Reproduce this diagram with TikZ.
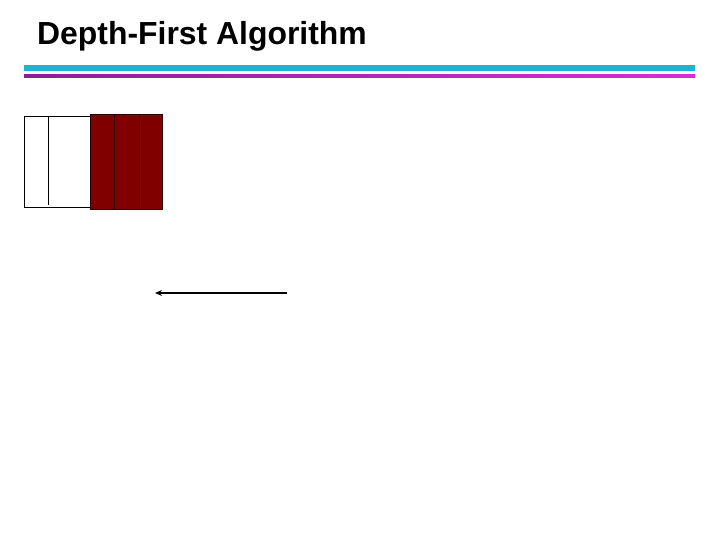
\documentclass[tikz,border=0pt]{standalone}
\usepackage{fontspec}
\setmainfont{Liberation Sans}
\usetikzlibrary{arrows.meta,positioning}
\definecolor{barcyan}{RGB}{32,178,210}
\definecolor{barmagA}{RGB}{140,30,150}
\definecolor{barmagB}{RGB}{215,45,215}
\definecolor{darkred}{RGB}{128,0,0}
\tikzset{
  whitebox/.style={draw=black, line width=1pt, fill=white, inner sep=0pt, outer sep=0pt},
  redcell/.style={draw=black!70!darkred, line width=1pt, fill=darkred, inner sep=0pt, outer sep=0pt},
  titletext/.style={font=\bfseries\fontsize{31.9}{36}\selectfont, inner sep=0pt, anchor=base west},
  arrowline/.style={line width=1.6pt, -{Stealth[length=7pt,width=6pt]}}
}
\begin{document}
\begin{tikzpicture}[x=1pt,y=1pt]
\useasboundingbox (0,0) rectangle (720,540);
% title
\node[titletext] (title) at (37,495) {Depth-First Algorithm};
% bars
\shade[left color=barcyan, right color=barcyan] (24,469) rectangle (695,474);
\shade[left color=barmagA, right color=barmagB] (24,462.5) rectangle (695,465.5);
% white box
\node[whitebox, minimum width=66pt, minimum height=91pt, anchor=north west] (wbox) at (24.3,423.3) {};
\coordinate (wl1) at (48.3,423.3);
\coordinate (wl2) at (48.3,335);
\draw[line width=1pt] (wl1) -- (wl2);
% red cells
\node[redcell, minimum width=24.5pt, minimum height=95.7pt, anchor=north west] (r1) at (90.2,425.7) {};
\node[redcell, minimum width=24.5pt, minimum height=95.7pt, anchor=north west] (r2) at (r1.north east) {};
\node[redcell, minimum width=23.5pt, minimum height=95.7pt, anchor=north west] (r3) at (r2.north east) {};
% arrow
\coordinate (as) at (287,247);
\coordinate (ae) at (155,247);
\draw[arrowline] (as) -- (ae);
\end{tikzpicture}
\end{document}
